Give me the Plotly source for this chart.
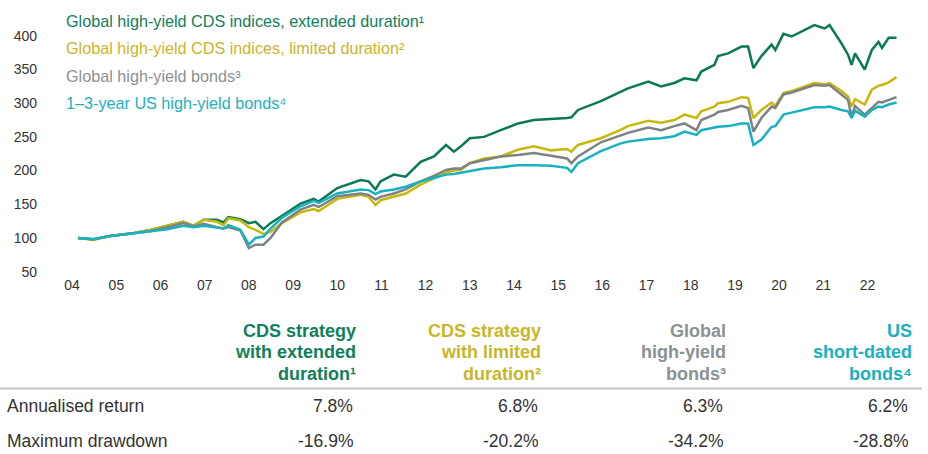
import plotly.graph_objects as go

# ---------------- data ----------------
dates = [
    "2004-02-20", "2004-06-25", "2004-11-10", "2005-05-20", "2005-10-08", "2006-02-25",
    "2006-07-08", "2006-10-01", "2006-12-24", "2007-04-13", "2007-06-06", "2007-07-16",
    "2007-10-23", "2008-01-01", "2008-02-25", "2008-05-01", "2008-06-28", "2008-10-01",
    "2009-03-03", "2009-06-20", "2009-07-31", "2010-01-01", "2010-07-13", "2010-09-17",
    "2010-11-13", "2010-12-24", "2011-04-13", "2011-07-20", "2011-11-21", "2012-03-10",
    "2012-06-18", "2012-08-22", "2012-10-19", "2013-01-01", "2013-04-28", "2013-09-13",
    "2014-02-03", "2014-06-14", "2014-11-03", "2015-03-15", "2015-04-20", "2015-06-14",
    "2015-12-20", "2016-05-27", "2016-07-31", "2017-01-15", "2017-05-01", "2017-08-18",
    "2017-11-10", "2018-02-17", "2018-03-29", "2018-07-16", "2018-08-14", "2018-11-06",
    "2019-02-24", "2019-04-20", "2019-06-03", "2019-08-08", "2019-10-31", "2019-12-01",
    "2020-02-06", "2020-04-13", "2020-10-19", "2021-01-12", "2021-02-21", "2021-05-30",
    "2021-07-24", "2021-08-22", "2021-09-20", "2021-12-09", "2022-02-06", "2022-04-02",
    "2022-05-01", "2022-06-25", "2022-08-29",
]
cds_extended = [
    100, 98, 103, 107, 112, 118,
    124, 118, 127, 127, 123, 131,
    128, 122, 124, 113, 122, 133,
    151, 158, 154, 174, 186, 184,
    172, 184, 194, 191, 213, 221,
    238, 228, 236, 248, 250, 260,
    270, 275, 276, 278, 279, 290,
    303, 316, 322, 332, 325, 330,
    337, 334, 347, 357, 370, 374,
    384, 384, 352, 370, 387, 379,
    403, 399, 416, 411, 416, 389,
    372, 357, 374, 350, 379, 391,
    382, 397, 397,
]
cds_limited = [
    100, 97, 103, 107, 112, 118,
    124, 118, 127, 124, 119, 129,
    126, 116, 112, 106, 109, 122,
    138, 143, 140, 158, 164, 161,
    149, 156, 161, 166, 179, 189,
    197, 200, 201, 211, 218, 221,
    231, 236, 230, 232, 228, 238,
    248, 260, 266, 274, 271, 275,
    283, 278, 288, 295, 300, 302,
    309, 308, 278, 290, 301, 296,
    315, 318, 330, 328, 330, 318,
    310, 295, 306, 298, 320, 326,
    327, 331, 339,
]
global_hy = [
    100, 98, 103, 107, 110, 116,
    122, 117, 121, 116, 114, 116,
    111, 85, 90, 90, 100, 123,
    142, 149, 146, 162, 166, 164,
    157, 161, 166, 172, 184, 192,
    201, 203, 203, 211, 216, 221,
    223, 226, 222, 218, 211, 221,
    242, 252, 256, 264, 260, 266,
    270, 260, 275, 283, 287, 290,
    296, 293, 258, 278, 295, 293,
    313, 316, 327, 326, 327, 313,
    305, 280, 296, 283, 293, 302,
    301, 305, 309,
]
us_short = [
    100, 98, 103, 107, 110, 113,
    118, 116, 118, 116, 114, 119,
    112, 90, 100, 102, 114, 130,
    147, 155, 152, 166, 172, 171,
    165, 169, 172, 176, 184, 189,
    194, 195, 197, 199, 203, 205,
    208, 208, 207, 204, 198, 211,
    229, 240, 243, 247, 248, 251,
    258, 253, 260, 264, 265, 266,
    270, 270, 238, 246, 265, 266,
    283, 286, 294, 294, 295, 290,
    288, 278, 289, 280, 290, 295,
    294, 298, 301,
]

series_names = [
    "Global high-yield CDS indices, extended duration",
    "Global high-yield CDS indices, limited duration",
    "Global high-yield bonds",
    "1\u20133-year US high-yield bonds",
]
footnotes = ["\u00b9", "\u00b2", "\u00b3", "\u2074"]

table_headers = [
    ["CDS strategy", "with extended", "duration"],
    ["CDS strategy", "with limited", "duration"],
    ["Global", "high-yield", "bonds"],
    ["US", "short-dated", "bonds"],
]
row_labels = ["Annualised return", "Maximum drawdown"]
annualised_return = ["7.8%", "6.8%", "6.3%", "6.2%"]
max_drawdown = ["-16.9%", "-20.2%", "-34.2%", "-28.8%"]

line_colors = ["#0b7a52", "#c9b80c", "#7d8284", "#17b2c2"]
text_colors = ["#11805a", "#c8b62a", "#8b9194", "#1bb0c0"]

# ---------------- layout geometry ----------------
FW, FH = 928, 454
L, R, T, B = 42, 905, 19, 275
PW, PH = R - L, B - T


def px(x):
    return (x - L) / PW


def py(y):
    return 1 - (y - T) / PH


FONT = "Liberation Sans, Arial, Helvetica, sans-serif"

fig = go.Figure()
for vals, name, col in zip([cds_extended, cds_limited, global_hy, us_short], series_names, line_colors):
    fig.add_trace(go.Scatter(
        x=dates, y=vals, mode="lines", name=name,
        line=dict(color=col, width=2.5, shape="linear"),
        hoverinfo="skip", showlegend=False,
    ))

annotations = []
# legend-like labels
legend_y = [20.5, 48, 76, 103]
for name, fn, col, yy in zip(series_names, footnotes, text_colors, legend_y):
    annotations.append(dict(
        x=px(64), y=py(yy), xref="paper", yref="paper",
        xanchor="left", yanchor="middle", showarrow=False,
        text=name + fn,
        font=dict(family=FONT, size=16.2, color=col),
    ))

# table header
header_right = [358, 543, 728, 914]
header_rows = [330.5, 352, 373.5]
for ci, (lines, fn, col) in enumerate(zip(table_headers, footnotes, text_colors)):
    for li, line in enumerate(lines):
        txt = line + (fn if li == len(lines) - 1 else "")
        annotations.append(dict(
            x=px(header_right[ci]), y=py(header_rows[li]), xref="paper", yref="paper",
            xanchor="right", yanchor="middle", showarrow=False,
            text=txt,
            font=dict(family=FONT, size=18, color=col, weight="bold"),
        ))

# table rows
value_right = [355, 540, 725, 910]
row_y = [406, 441]
for ri, (lab, vals) in enumerate(zip(row_labels, [annualised_return, max_drawdown])):
    annotations.append(dict(
        x=px(5), y=py(row_y[ri]), xref="paper", yref="paper",
        xanchor="left", yanchor="middle", showarrow=False,
        text=lab, font=dict(family=FONT, size=17.5, color="#333333"),
    ))
    for ci, v in enumerate(vals):
        annotations.append(dict(
            x=px(value_right[ci]), y=py(row_y[ri]), xref="paper", yref="paper",
            xanchor="right", yanchor="middle", showarrow=False,
            text=v, font=dict(family=FONT, size=17.5, color="#333333"),
        ))

shapes = [dict(
    type="line", xref="paper", yref="paper",
    x0=px(0), x1=px(922), y0=py(388.5), y1=py(388.5),
    line=dict(color="#c4c4c4", width=2),
)]

fig.update_layout(
    width=FW, height=FH,
    margin=dict(l=L, r=FW - R, t=T, b=FH - B, pad=0),
    paper_bgcolor="white", plot_bgcolor="white",
    font=dict(family=FONT, size=14, color="#333333"),
    annotations=annotations, shapes=shapes,
    xaxis=dict(
        type="date", range=["2003-04-27", "2022-11-07"],
        tick0="2004-01-01", dtick="M12", tickformat="%y",
        showgrid=False, zeroline=False, showline=False,
        ticks="", tickfont=dict(family=FONT, size=14, color="#333333"),
        ticklabelstandoff=0,
    ),
    yaxis=dict(
        range=[45, 425], tickvals=[50, 100, 150, 200, 250, 300, 350, 400],
        showgrid=False, zeroline=False, showline=False,
        ticks="", tickfont=dict(family=FONT, size=14, color="#333333"),
        ticklabelstandoff=4,
    ),
)

fig.write_html(
    "out.html",
    config={"displayModeBar": False},
    post_script="document.body.style.margin='0';document.body.style.overflow='hidden';",
)
